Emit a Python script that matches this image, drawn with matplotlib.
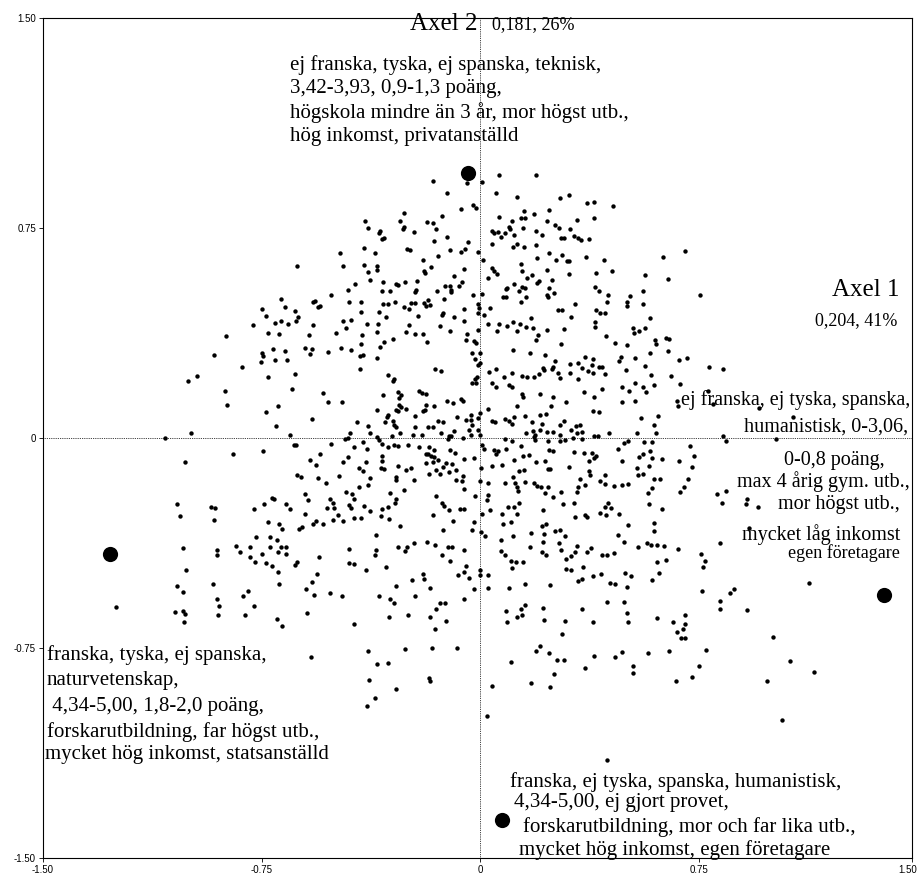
import matplotlib
matplotlib.use("Agg")
import matplotlib.pyplot as plt
import matplotlib.transforms as mtransforms
import numpy as np

# stora punkter: kategorier (modaliteter) i planet Axel 1 / Axel 2
cat_x = [-0.043, -1.271, 1.384, 0.075]
cat_y = [0.948, -0.414, -0.561, -1.364]

# individer (x, y) per område
pts_upper_far_left = [
    (-0.628, 0.614), (-0.683, 0.495), (-0.750, 0.461), (-0.671, 0.469), (-0.636, 0.454),
    (-0.624, 0.431), (-0.631, 0.419), (-0.736, 0.435), (-0.703, 0.412), (-0.683, 0.419),
    (-0.661, 0.408), (-0.779, 0.405), (-0.872, 0.364), (-0.728, 0.375), (-0.689, 0.371),
    (-0.711, 0.318), (-0.671, 0.311), (-0.750, 0.305), (-0.747, 0.293), (-0.914, 0.296),
    (-0.703, 0.277), (-0.664, 0.277), (-0.753, 0.270), (-0.818, 0.255), (-0.636, 0.229),
    (-0.728, 0.218), (-0.973, 0.221),
]

pts_upper_left = [
    (-0.162, 0.918), (-0.047, 0.910), (0.006, 0.914), (0.063, 0.940), (-0.115, 0.876),
    (0.053, 0.876), (-0.065, 0.817), (-0.026, 0.832), (-0.014, 0.820), (0.063, 0.790),
    (-0.263, 0.802), (-0.132, 0.794), (-0.395, 0.775), (-0.276, 0.775), (-0.184, 0.771),
    (-0.162, 0.768), (-0.385, 0.749), (-0.267, 0.748), (-0.263, 0.755), (-0.151, 0.745),
    (-0.229, 0.735), (-0.344, 0.739), (-0.348, 0.733), (0.039, 0.739), (0.046, 0.733),
    (0.062, 0.736), (-0.116, 0.719), (-0.332, 0.714), (-0.338, 0.711), (-0.159, 0.705),
    (-0.043, 0.701), (0.041, 0.693), (-0.398, 0.677), (-0.252, 0.674), (-0.243, 0.670),
    (-0.105, 0.670), (-0.065, 0.663), (-0.054, 0.674), (-0.007, 0.663), (-0.481, 0.660),
    (-0.363, 0.660), (-0.144, 0.651), (0.009, 0.637), (-0.197, 0.637), (-0.470, 0.614),
    (-0.398, 0.618), (-0.355, 0.614), (-0.169, 0.610), (-0.192, 0.598), (-0.190, 0.590),
    (-0.058, 0.604), (0.039, 0.607), (0.046, 0.598), (-0.385, 0.592), (-0.355, 0.599),
    (-0.089, 0.580), (0.025, 0.570), (0.056, 0.585), (-0.378, 0.563), (-0.333, 0.558),
    (-0.291, 0.550), (-0.281, 0.546), (-0.259, 0.557), (-0.216, 0.562), (-0.430, 0.551),
    (-0.063, 0.556), (-0.073, 0.544), (-0.121, 0.544), (-0.105, 0.542), (-0.100, 0.529),
    (-0.102, 0.521), (-0.454, 0.529), (-0.338, 0.525), (-0.309, 0.525), (-0.221, 0.529),
    (-0.225, 0.521), (-0.148, 0.525), (-0.514, 0.510), (-0.026, 0.512), (0.006, 0.513),
    (-0.566, 0.490), (-0.573, 0.487), (-0.550, 0.473), (-0.556, 0.468), (-0.449, 0.487),
    (-0.409, 0.485), (-0.333, 0.479), (-0.316, 0.479), (-0.293, 0.487), (-0.239, 0.483),
    (-0.224, 0.483), (-0.195, 0.482), (-0.180, 0.494), (-0.174, 0.476), (-0.185, 0.473),
    (-0.126, 0.495), (-0.008, 0.479), (-0.005, 0.463), (-0.263, 0.468), (-0.244, 0.461),
    (0.032, 0.465), (-0.410, 0.449), (-0.348, 0.449), (-0.323, 0.432), (-0.213, 0.436),
    (-0.127, 0.445), (-0.131, 0.440), (-0.091, 0.432), (-0.057, 0.461), (-0.009, 0.448),
    (0.014, 0.438), (-0.574, 0.402), (-0.470, 0.419), (-0.445, 0.423), (-0.058, 0.419),
    (-0.390, 0.408), (-0.352, 0.408), (-0.244, 0.405), (-0.140, 0.401), (0.025, 0.408),
    (0.063, 0.406), (-0.589, 0.368), (-0.494, 0.375), (-0.460, 0.394), (-0.406, 0.368),
    (-0.355, 0.379), (-0.255, 0.379), (-0.223, 0.371), (-0.197, 0.371), (-0.104, 0.382),
    (-0.047, 0.371), (-0.007, 0.386), (0.056, 0.382), (-0.603, 0.321), (-0.578, 0.318),
    (-0.584, 0.301), (-0.524, 0.307), (-0.477, 0.321), (-0.445, 0.314), (-0.409, 0.335),
    (-0.345, 0.325), (-0.330, 0.344), (-0.301, 0.355), (-0.184, 0.342), (-0.051, 0.349),
    (-0.023, 0.345), (-0.015, 0.338), (-0.413, 0.294), (-0.404, 0.298), (-0.355, 0.285),
    (-0.029, 0.305), (-0.003, 0.305), (-0.019, 0.283), (-0.003, 0.269), (-0.007, 0.262),
    (-0.413, 0.248), (-0.155, 0.248), (-0.136, 0.240), (-0.318, 0.225), (-0.298, 0.210),
    (-0.018, 0.212), (-0.013, 0.218), (0.029, 0.235), (0.053, 0.248),
]

pts_upper_right = [
    (0.190, 0.940), (0.126, 0.862), (0.272, 0.858), (0.304, 0.869), (0.365, 0.839),
    (0.390, 0.843), (0.455, 0.827), (0.150, 0.810), (0.139, 0.787), (0.153, 0.787),
    (0.107, 0.775), (0.185, 0.801), (0.236, 0.813), (0.229, 0.775), (0.257, 0.761),
    (0.269, 0.749), (0.330, 0.779), (0.390, 0.787), (0.097, 0.752), (0.100, 0.745),
    (0.086, 0.731), (0.071, 0.719), (0.115, 0.726), (0.146, 0.749), (0.190, 0.738),
    (0.211, 0.726), (0.308, 0.745), (0.322, 0.723), (0.334, 0.715), (0.344, 0.707),
    (0.372, 0.712), (0.277, 0.715), (0.288, 0.715), (0.126, 0.693), (0.111, 0.681),
    (0.150, 0.681), (0.190, 0.689), (0.194, 0.644), (0.236, 0.660), (0.258, 0.637),
    (0.279, 0.655), (0.297, 0.633), (0.303, 0.633), (0.362, 0.648), (0.424, 0.637),
    (0.139, 0.621), (0.143, 0.595), (0.161, 0.573), (0.178, 0.583), (0.229, 0.599),
    (0.244, 0.563), (0.201, 0.562), (0.193, 0.554), (0.304, 0.587), (0.397, 0.588),
    (0.452, 0.595), (0.563, 0.583), (0.642, 0.569), (0.627, 0.648), (0.700, 0.667),
    (0.092, 0.537), (0.087, 0.531), (0.114, 0.550), (0.143, 0.539), (0.153, 0.536),
    (0.132, 0.525), (0.236, 0.535), (0.251, 0.518), (0.229, 0.512), (0.233, 0.502),
    (0.393, 0.539), (0.405, 0.524), (0.436, 0.510), (0.433, 0.487), (0.502, 0.487),
    (0.513, 0.506), (0.501, 0.471), (0.558, 0.524), (0.558, 0.479), (0.079, 0.502),
    (0.087, 0.502), (0.158, 0.502), (0.139, 0.487), (0.326, 0.479), (0.265, 0.456),
    (0.279, 0.456), (0.398, 0.456), (0.409, 0.445), (0.427, 0.446), (0.312, 0.431),
    (0.581, 0.427), (0.175, 0.427), (0.111, 0.415), (0.092, 0.401), (0.136, 0.408),
    (0.158, 0.398), (0.179, 0.393), (0.394, 0.415), (0.394, 0.398), (0.229, 0.386),
    (0.287, 0.389), (0.524, 0.394), (0.525, 0.375), (0.545, 0.382), (0.563, 0.393),
    (0.126, 0.382), (0.197, 0.368), (0.190, 0.349), (0.430, 0.363), (0.462, 0.338),
    (0.501, 0.333), (0.597, 0.349), (0.602, 0.337), (0.638, 0.356), (0.645, 0.352),
    (0.276, 0.335), (0.111, 0.314), (0.171, 0.304), (0.223, 0.296), (0.360, 0.288),
    (0.385, 0.281), (0.333, 0.267), (0.308, 0.263), (0.255, 0.274), (0.483, 0.288),
    (0.476, 0.274), (0.531, 0.285), (0.581, 0.304), (0.642, 0.311), (0.682, 0.277),
    (0.710, 0.285), (0.107, 0.233), (0.144, 0.221), (0.160, 0.218), (0.185, 0.218),
    (0.200, 0.230), (0.215, 0.250), (0.218, 0.243), (0.244, 0.248), (0.248, 0.254),
    (0.266, 0.233), (0.273, 0.214), (0.308, 0.233), (0.350, 0.251), (0.370, 0.240),
    (0.384, 0.260), (0.385, 0.231), (0.408, 0.255), (0.418, 0.255), (0.428, 0.230),
    (0.498, 0.244), (0.566, 0.258), (0.584, 0.225), (0.655, 0.221), (0.081, 0.217),
    (0.334, 0.211), (0.753, 0.512), (0.784, 0.255), (0.832, 0.246),
]

pts_mid_far_left = [
    (-1.002, 0.204), (-0.876, 0.169), (-0.646, 0.176), (-0.869, 0.117), (-0.693, 0.113),
    (-0.736, 0.094), (-0.700, 0.042), (-0.991, 0.019), (-0.654, 0.012), (-1.083, 0.000),
    (-0.639, -0.026), (-0.631, -0.026), (-0.850, -0.056), (-0.747, -0.048), (-1.013, -0.086),
    (-0.629, -0.133), (-1.040, -0.236), (-1.031, -0.277), (-0.924, -0.246), (-0.911, -0.251),
    (-0.912, -0.292), (-0.776, -0.255), (-0.741, -0.236), (-0.716, -0.215), (-0.707, -0.219),
    (-0.668, -0.236), (-0.653, -0.255), (-0.728, -0.301), (-0.689, -0.307), (-0.679, -0.326),
    (-0.622, -0.326), (-0.768, -0.355), (-0.721, -0.355), (-0.696, -0.365), (-1.019, -0.393),
    (-0.905, -0.400), (-0.905, -0.419), (-0.837, -0.386), (-0.825, -0.408), (-0.790, -0.389),
    (-0.789, -0.424), (-0.772, -0.442), (-0.750, -0.415), (-0.736, -0.445), (-0.721, -0.389),
    (-0.715, -0.457), (-0.693, -0.408), (-0.683, -0.389), (-0.668, -0.389), (-0.668, -0.415),
    (-0.693, -0.479), (-0.636, -0.452), (-0.629, -0.443), (-1.008, -0.471), (-1.040, -0.527),
    (-1.019, -0.550), (-0.916, -0.523), (-0.905, -0.574), (-0.815, -0.565), (-0.797, -0.545),
    (-0.689, -0.523),
    (-1.251, -0.605), (-1.048, -0.621), (-1.019, -0.617), (-1.013, -0.627), (-1.016, -0.658),
    (-0.895, -0.599), (-0.900, -0.632), (-0.807, -0.632), (-0.775, -0.599), (-0.696, -0.648),
    (-0.679, -0.670),
]

pts_mid_left = [
    (-0.299, 0.205), (-0.029, 0.195), (-0.015, 0.195), (0.039, 0.195), (0.055, 0.183),
    (-0.539, 0.161), (-0.210, 0.168), (-0.201, 0.161), (-0.185, 0.157), (-0.282, 0.164),
    (-0.333, 0.154), (-0.271, 0.154), (-0.524, 0.127), (-0.474, 0.127), (-0.279, 0.142),
    (-0.116, 0.131), (-0.094, 0.124), (-0.065, 0.138), (-0.061, 0.133), (-0.159, 0.113),
    (-0.185, 0.117), (-0.191, 0.100), (-0.197, 0.096), (-0.280, 0.117), (-0.274, 0.112),
    (-0.289, 0.101), (-0.282, 0.096), (-0.255, 0.105), (-0.356, 0.101), (0.027, 0.105),
    (0.000, 0.089), (-0.316, 0.083), (-0.321, 0.076), (-0.326, 0.057), (-0.300, 0.061),
    (-0.295, 0.046), (-0.290, 0.038), (-0.424, 0.057), (-0.387, 0.042), (-0.578, 0.068),
    (-0.224, 0.080), (-0.223, 0.040), (-0.179, 0.040), (-0.162, 0.038), (-0.147, 0.061),
    (-0.127, 0.057), (-0.079, 0.076), (-0.051, 0.064), (-0.034, 0.064), (-0.033, 0.083),
    (-0.029, 0.045), (-0.007, 0.070), (0.039, 0.061), (0.050, 0.057), (-0.378, 0.019),
    (-0.446, 0.019), (-0.453, 0.000), (-0.463, -0.004), (-0.276, 0.019), (-0.304, 0.007),
    (-0.232, 0.012), (-0.201, 0.012), (-0.134, 0.019), (-0.108, 0.007), (-0.100, 0.007),
    (-0.089, 0.026), (-0.059, 0.000), (-0.039, 0.029), (-0.034, 0.012), (-0.007, 0.030),
    (-0.003, 0.012), (-0.355, 0.005), (-0.348, -0.007), (-0.402, -0.014), (-0.513, -0.021),
    (-0.435, -0.031), (-0.390, -0.040), (-0.337, -0.023), (-0.317, -0.033), (-0.298, -0.025),
    (-0.284, -0.029), (-0.248, -0.025), (-0.211, -0.033), (-0.178, -0.033), (-0.159, -0.044),
    (-0.188, -0.056), (-0.179, -0.056), (-0.171, -0.064), (-0.111, -0.005), (-0.104, -0.044),
    (-0.088, -0.052), (0.006, -0.025), (0.011, -0.039), (0.047, -0.044), (-0.584, -0.079),
    (-0.549, -0.058), (-0.563, -0.098), (-0.470, -0.086), (-0.455, -0.067), (-0.418, -0.107),
    (-0.403, -0.117), (-0.393, -0.085), (-0.337, -0.064), (-0.337, -0.082), (-0.341, -0.108),
    (-0.330, -0.112), (-0.281, -0.099), (-0.256, -0.115), (-0.239, -0.108), (-0.290, -0.138),
    (-0.291, -0.150), (-0.187, -0.089), (-0.162, -0.085), (-0.160, -0.067), (-0.145, -0.079),
    (-0.129, -0.105), (-0.118, -0.089), (-0.098, -0.093), (-0.137, -0.130), (-0.154, -0.114),
    (-0.177, -0.129), (-0.107, -0.123), (-0.083, -0.114), (-0.058, -0.075), (-0.022, -0.070),
    (0.003, -0.108), (0.039, -0.101), (0.053, -0.058), (-0.616, -0.138), (-0.556, -0.143),
    (-0.484, -0.135), (-0.531, -0.160), (-0.380, -0.142), (-0.229, -0.150), (-0.084, -0.150),
    (-0.063, -0.152), (-0.059, -0.135), (-0.003, -0.152), (0.026, -0.160), (-0.417, -0.175),
    (-0.384, -0.169), (-0.263, -0.187), (-0.058, -0.182), (-0.462, -0.194), (-0.442, -0.201),
    (-0.311, -0.195), (-0.600, -0.199), (-0.590, -0.221), (-0.516, -0.217), (-0.505, -0.231),
    (-0.526, -0.250), (-0.501, -0.251), (-0.449, -0.238), (-0.435, -0.219), (-0.443, -0.251),
    (-0.400, -0.243), (-0.380, -0.262), (-0.337, -0.252), (-0.318, -0.246), (-0.290, -0.219),
    (-0.293, -0.231), (-0.154, -0.206), (-0.132, -0.232), (-0.124, -0.242), (-0.108, -0.256),
    (-0.070, -0.252), (-0.058, -0.252), (-0.018, -0.206), (0.026, -0.202), (0.024, -0.220),
    (0.032, -0.256), (-0.603, -0.270), (-0.506, -0.294), (-0.487, -0.274), (-0.471, -0.295),
    (-0.432, -0.285), (-0.408, -0.287), (-0.341, -0.280), (-0.313, -0.290), (-0.163, -0.276),
    (-0.094, -0.295), (-0.021, -0.301), (0.006, -0.270), (-0.611, -0.319), (-0.575, -0.308),
    (-0.563, -0.298), (-0.539, -0.308), (-0.277, -0.315), (-0.129, -0.330), (-0.030, -0.330),
    (0.002, -0.335), (0.015, -0.351), (-0.358, -0.345), (-0.228, -0.374), (-0.184, -0.370),
    (-0.155, -0.381), (-0.112, -0.388), (-0.096, -0.388), (-0.058, -0.399), (-0.251, -0.388),
    (-0.258, -0.405), (-0.284, -0.388), (-0.450, -0.395), (-0.358, -0.400), (-0.361, -0.418),
    (-0.553, -0.426), (-0.449, -0.445), (-0.435, -0.451), (-0.323, -0.460), (-0.392, -0.471),
    (-0.233, -0.506), (-0.197, -0.486), (-0.193, -0.505), (-0.131, -0.418), (-0.103, -0.439),
    (-0.076, -0.488), (-0.055, -0.479), (-0.050, -0.458), (-0.040, -0.501), (-0.003, -0.489),
    (0.000, -0.470), (0.027, -0.488), (-0.559, -0.486), (-0.579, -0.513), (-0.599, -0.539),
    (-0.571, -0.562), (-0.516, -0.552), (-0.476, -0.565), (-0.349, -0.564), (-0.309, -0.575),
    (-0.226, -0.565), (-0.172, -0.537), (-0.288, -0.527), (-0.023, -0.540), (0.025, -0.535),
    (-0.058, -0.575), (0.061, -0.045),
]

pts_mid_right = [
    (0.099, 0.189), (0.108, 0.183), (0.204, 0.158), (0.248, 0.146), (0.143, 0.158),
    (0.146, 0.146), (0.126, 0.114), (0.355, 0.165), (0.390, 0.146), (0.416, 0.176),
    (0.487, 0.181), (0.511, 0.169), (0.530, 0.198), (0.556, 0.181), (0.568, 0.164),
    (0.595, 0.190), (0.685, 0.192), (0.487, 0.127), (0.531, 0.131), (0.674, 0.131),
    (0.677, 0.113), (0.295, 0.127), (0.243, 0.113), (0.385, 0.098), (0.408, 0.093),
    (0.083, 0.068), (0.097, 0.061), (0.107, 0.049), (0.114, 0.076), (0.154, 0.080),
    (0.178, 0.057), (0.204, 0.083), (0.226, 0.087), (0.212, 0.050), (0.180, 0.025),
    (0.187, 0.011), (0.203, 0.029), (0.156, 0.017), (0.229, 0.021), (0.250, 0.023),
    (0.272, 0.046), (0.287, 0.061), (0.274, 0.012), (0.290, -0.007), (0.309, 0.029),
    (0.328, 0.043), (0.340, 0.048), (0.331, 0.019), (0.350, 0.021), (0.350, -0.005),
    (0.317, 0.001), (0.390, 0.008), (0.404, 0.006), (0.441, 0.019), (0.537, 0.019),
    (0.551, 0.070), (0.596, 0.045), (0.603, 0.019), (0.608, 0.080), (0.084, -0.002),
    (0.089, -0.039), (0.108, -0.011), (0.139, -0.030), (0.184, 0.002), (0.233, -0.011),
    (0.235, -0.044), (0.249, -0.048), (0.188, -0.008), (0.274, -0.011), (0.322, -0.051),
    (0.354, -0.054), (0.382, -0.052), (0.398, -0.064), (0.389, -0.071), (0.373, -0.082),
    (0.484, -0.081), (0.473, -0.040), (0.492, -0.018), (0.507, -0.011), (0.562, -0.014),
    (0.587, -0.014), (0.556, -0.056), (0.582, -0.048), (0.545, -0.069), (0.587, -0.071),
    (0.621, -0.075), (0.537, -0.107), (0.542, -0.133), (0.559, -0.130), (0.578, -0.099),
    (0.594, -0.145), (0.616, -0.145), (0.682, -0.082), (0.719, -0.030), (0.733, -0.064),
    (0.724, -0.105), (0.713, -0.146), (0.699, -0.176), (0.685, -0.194), (0.073, -0.098),
    (0.114, -0.080), (0.168, -0.062), (0.146, -0.064), (0.191, -0.086), (0.220, -0.083),
    (0.304, -0.105), (0.233, -0.112), (0.240, -0.112), (0.111, -0.138), (0.134, -0.117),
    (0.150, -0.115), (0.086, -0.160), (0.120, -0.161), (0.126, -0.176), (0.129, -0.190),
    (0.153, -0.156), (0.184, -0.161), (0.194, -0.173), (0.209, -0.176), (0.232, -0.176),
    (0.220, -0.198), (0.248, -0.212), (0.276, -0.193), (0.340, -0.146), (0.336, -0.174),
    (0.332, -0.192), (0.358, -0.169), (0.371, -0.118), (0.376, -0.133), (0.409, -0.152),
    (0.427, -0.164), (0.428, -0.131), (0.459, -0.171), (0.484, -0.168), (0.506, -0.164),
    (0.573, -0.195), (0.587, -0.180), (0.578, -0.236), (0.623, -0.254), (0.094, -0.248),
    (0.074, -0.271), (0.115, -0.246), (0.132, -0.233), (0.127, -0.271), (0.078, -0.308),
    (0.105, -0.301), (0.216, -0.256), (0.283, -0.237), (0.322, -0.232), (0.325, -0.283),
    (0.358, -0.275), (0.366, -0.283), (0.411, -0.269), (0.429, -0.276), (0.428, -0.248),
    (0.437, -0.232), (0.447, -0.250), (0.474, -0.270), (0.505, -0.312), (0.594, -0.302),
    (0.594, -0.332), (0.172, -0.340), (0.210, -0.314), (0.226, -0.307), (0.219, -0.342),
    (0.257, -0.332), (0.274, -0.329), (0.111, -0.350), (0.290, -0.351), (0.071, -0.365),
    (0.171, -0.390), (0.213, -0.370), (0.271, -0.375), (0.332, -0.385), (0.072, -0.405),
    (0.084, -0.419), (0.104, -0.438), (0.121, -0.443), (0.146, -0.442), (0.107, -0.463),
    (0.211, -0.408), (0.226, -0.418), (0.277, -0.399), (0.312, -0.421), (0.325, -0.406),
    (0.364, -0.407), (0.379, -0.392), (0.416, -0.419), (0.433, -0.419), (0.457, -0.412),
    (0.471, -0.346), (0.494, -0.370), (0.541, -0.389), (0.571, -0.376), (0.586, -0.383),
    (0.604, -0.381), (0.630, -0.386), (0.677, -0.396), (0.605, -0.443), (0.635, -0.437),
    (0.295, -0.432), (0.293, -0.467), (0.312, -0.473), (0.352, -0.461), (0.333, -0.512),
    (0.350, -0.502), (0.386, -0.492), (0.413, -0.487), (0.445, -0.519), (0.462, -0.520),
    (0.495, -0.481), (0.517, -0.494), (0.503, -0.533), (0.588, -0.508), (0.613, -0.481),
    (0.097, -0.535), (0.153, -0.520), (0.240, -0.524),
]

pts_mid_far_right = [
    (0.779, 0.169), (0.799, 0.120), (0.957, 0.108), (1.073, 0.076), (0.833, 0.008),
    (0.841, -0.010), (1.015, -0.004), (0.813, -0.201), (0.841, -0.189), (0.828, -0.231),
    (0.913, -0.217), (0.910, -0.235), (0.953, -0.245), (0.921, -0.320), (0.821, -0.375),
    (0.756, -0.414), (0.769, -0.438), (0.764, -0.460), (0.759, -0.545), (0.856, -0.555),
    (0.868, -0.539), (1.127, -0.517),
]

pts_lower_left = [
    (-0.295, -0.590), (-0.140, -0.590), (-0.123, -0.590), (-0.152, -0.611), (-0.595, -0.625),
    (-0.432, -0.665), (-0.313, -0.639), (-0.248, -0.632), (-0.172, -0.639), (-0.119, -0.655),
    (-0.155, -0.681), (-0.385, -0.760), (-0.259, -0.752), (-0.166, -0.749), (-0.080, -0.749),
    (-0.582, -0.782), (-0.353, -0.808), (-0.316, -0.805), (-0.381, -0.864), (-0.176, -0.857),
    (-0.172, -0.868), (-0.288, -0.898), (-0.363, -0.929), (-0.390, -0.958), (0.039, -0.887),
    (0.022, -0.992),
]

pts_lower_right = [
    (0.089, -0.617), (0.092, -0.658), (0.126, -0.639), (0.140, -0.610), (0.143, -0.632),
    (0.154, -0.595), (0.215, -0.606), (0.218, -0.651), (0.290, -0.655), (0.280, -0.699),
    (0.350, -0.610), (0.387, -0.658), (0.433, -0.587), (0.494, -0.587), (0.501, -0.625),
    (0.506, -0.658), (0.606, -0.643), (0.660, -0.658), (0.700, -0.632), (0.700, -0.663),
    (0.674, -0.692), (0.695, -0.681), (0.687, -0.715), (0.701, -0.715), (0.104, -0.800),
    (0.189, -0.760), (0.204, -0.744), (0.236, -0.767), (0.261, -0.794), (0.287, -0.794),
    (0.251, -0.842), (0.175, -0.875), (0.240, -0.890), (0.358, -0.820), (0.390, -0.779),
    (0.462, -0.782), (0.484, -0.763), (0.573, -0.767), (0.645, -0.760), (0.524, -0.815),
    (0.524, -0.838), (0.671, -0.867), (0.724, -0.854), (0.748, -0.813), (0.433, -1.149),
    (0.821, -0.582), (0.821, -0.611), (0.913, -0.613), (1.003, -0.711), (0.774, -0.757),
    (1.061, -0.796), (1.144, -0.835), (0.983, -0.868), (1.035, -1.006),
]

xtick_vals = [-1.5, -0.75, 0, 0.75, 1.48]
xtick_labels = ["-1.50", "-0.75", "0", "0.75", "1.50"]
ytick_vals = [1.5, 0.75, 0, -0.75, -1.5]
ytick_labels = ["1.50", "0.75", "0", "-0.75", "-1.50"]

W, H = 918, 892
fig = plt.figure(figsize=(W / 100, H / 100), dpi=100)
ax = fig.add_axes([43 / W, 1 - 858 / H, (912 - 43) / W, (858 - 18) / H])

all_pts = (pts_upper_far_left + pts_upper_left + pts_upper_right + pts_mid_far_left
           + pts_mid_left + pts_mid_right + pts_mid_far_right + pts_lower_left + pts_lower_right)
px = np.array([p[0] for p in all_pts])
py = np.array([p[1] for p in all_pts])

ax.scatter(px, py, s=10, color="black", linewidths=0, zorder=3)
ax.scatter(cat_x, cat_y, s=120, color="black", linewidths=0, zorder=4)

ax.axhline(0, color="black", lw=0.6, ls=(0, (1, 1.2)), zorder=1)
ax.axvline(0, color="black", lw=0.6, ls=(0, (1, 1.2)), zorder=1)

ax.set_xlim(-1.5, 1.48)
ax.set_ylim(-1.5, 1.5)
ax.set_xticks(xtick_vals)
ax.set_xticklabels(xtick_labels, family="Liberation Sans", fontsize=7)
ax.set_yticks(ytick_vals)
ax.set_yticklabels(ytick_labels, family="Liberation Sans", fontsize=7)
ax.tick_params(length=3, width=0.6, pad=2)
for s in ax.spines.values():
    s.set_linewidth(0.8)

# sista x-etiketten ligger mot bildkanten
last = ax.get_xticklabels()[-1]
last.set_horizontalalignment("right")
last.set_transform(last.get_transform()
                   + mtransforms.ScaledTranslation(5 / 100, 0, fig.dpi_scale_trans))

serif = "Liberation Serif"


def txt(x, y, s, size=15, ha="left"):
    fig.text(x / W, 1 - y / H, s, fontsize=size, family=serif, ha=ha, va="center")


txt(478, 24, "Axel 2", size=18, ha="right")
txt(492, 25, "0,181, 26%", size=13)
txt(900, 290, "Axel 1", size=18, ha="right")
txt(897, 321, "0,204, 41%", size=13, ha="right")

top_lines = ["ej franska, tyska, ej spanska, teknisk,",
             "3,42-3,93, 0,9-1,3 poäng,",
             "högskola mindre än 3 år, mor högst utb.,",
             "hög inkomst, privatanställd"]
for i, s in enumerate(top_lines):
    txt(290, 65 + i * 24, s)

right_lines = [("ej franska, ej tyska, spanska,", 910, 400),
               ("humanistisk, 0-3,06,", 908, 427),
               ("0-0,8 poäng,", 885, 460),
               ("max 4 årig gym. utb.,", 910, 482),
               ("mor högst utb.,", 900, 505),
               ("mycket låg inkomst", 900, 535),
               ("egen företagare", 900, 553)]
for s, x, y in right_lines:
    txt(x, y, s, size=13 if s.startswith("egen") else 14.5, ha="right")

left_lines = [("franska, tyska, ej spanska,", 47, 655),
              ("naturvetenskap,", 47, 681),
              (" 4,34-5,00, 1,8-2,0 poäng,", 47, 707),
              ("forskarutbildning, far högst utb.,", 47, 732),
              ("mycket hög inkomst, statsanställd", 45, 755)]
for s, x, y in left_lines:
    txt(x, y, s)

bottom_lines = [("franska, ej tyska, spanska, humanistisk,", 510, 782),
                ("4,34-5,00, ej gjort provet,", 514, 802),
                ("forskarutbildning, mor och far lika utb.,", 523, 827),
                ("mycket hög inkomst, egen företagare", 519, 850)]
for s, x, y in bottom_lines:
    txt(x, y, s)

fig.savefig("out.png", dpi=100)
